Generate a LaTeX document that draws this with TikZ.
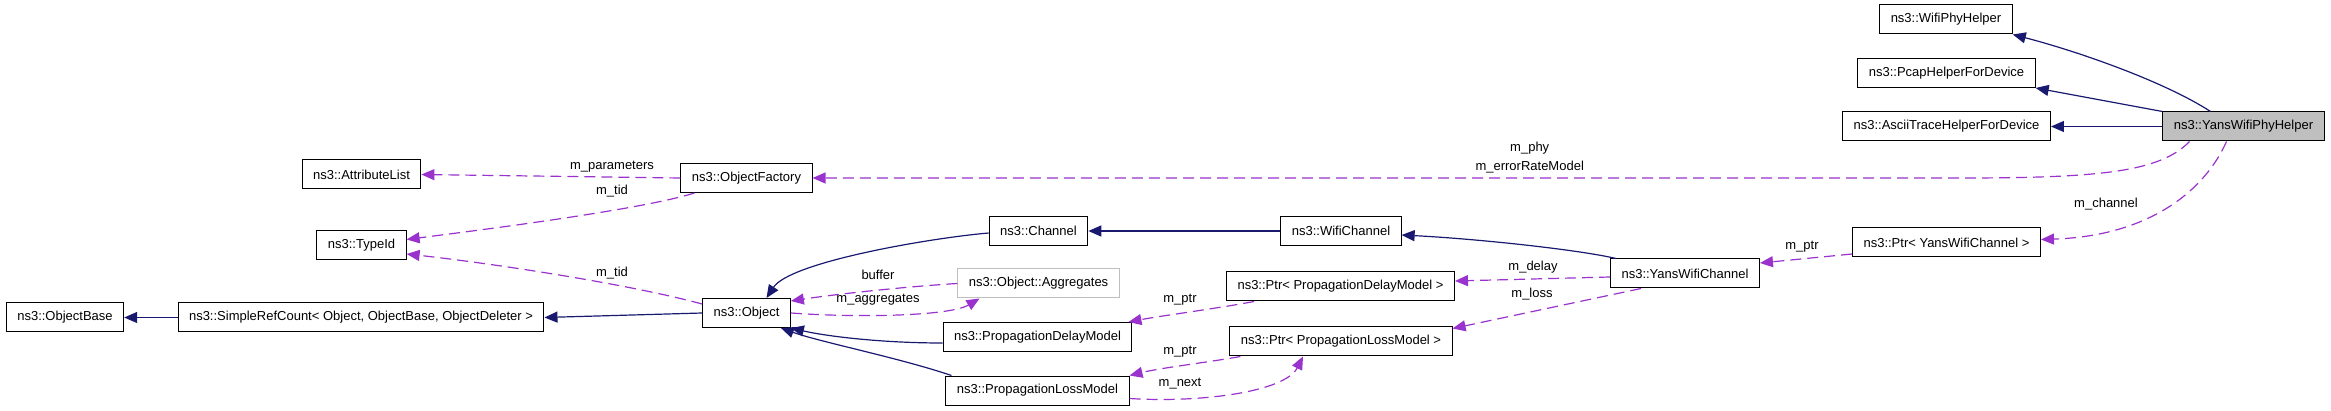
\documentclass[tikz,border=0pt]{standalone}
\usepackage{fontspec}
\setmainfont{Liberation Sans}
\usetikzlibrary{arrows.meta}
\definecolor{edgeblue}{HTML}{191970}
\definecolor{edgepurple}{HTML}{9A32CD}
\definecolor{boxgray}{HTML}{BFBFBF}
\tikzset{class box/.style={draw=black, line width=1pt, fill=white,
    inner xsep=11pt, inner ysep=0pt, minimum height=29pt,
    font=\fontsize{13}{15}\selectfont}}
\tikzset{inherit it/.style={draw=edgeblue, line width=1.2pt,
    -{Triangle[length=13pt,width=11pt]}}}
\tikzset{member it/.style={draw=edgepurple, line width=1.2pt,
    dash pattern=on 11pt off 6pt,
    -{Triangle[length=13pt,width=11pt]}}}
\tikzset{edge label/.style={font=\fontsize{13}{15}\selectfont,
    anchor=base, inner sep=0pt}}

\begin{document}
\begin{tikzpicture}[x=1pt,y=-1pt]
    \useasboundingbox (0,0) rectangle (2331,411);
    % classes
    \node[class box] (wifiphy) at (1946,19.5) {ns3::WifiPhyHelper};
    \node[class box] (pcap) at (1946.5,73) {ns3::PcapHelperForDevice};
    \node[class box] (ascii) at (1946.5,126.5) {ns3::AsciiTraceHelperForDevice};
    \node[class box, fill=boxgray] (ywph) at (2243.5,126.5) {ns3::YansWifiPhyHelper};
    \node[class box] (of) at (746.5,178) {ns3::ObjectFactory};
    \node[class box] (attributelist) at (361.5,174.5) {ns3::AttributeList};
    \node[class box] (typeid) at (361.5,245.5) {ns3::TypeId};
    \node[class box] (objectbase) at (65,317.5) {ns3::ObjectBase};
    \node[class box] (simplerefcount) at (361,317.5) {ns3::SimpleRefCount< Object, ObjectBase, ObjectDeleter >};
    \node[class box] (object) at (746.5,313) {ns3::Object};
    \node[class box] (channel) at (1038.5,231) {ns3::Channel};
    \node[class box] (wifichannel) at (1341,231) {ns3::WifiChannel};
    \node[class box, draw=boxgray] (agg) at (1038.5,283.5) {ns3::Object::Aggregates};
    \node[class box] (pdm) at (1037.5,337) {ns3::PropagationDelayModel};
    \node[class box] (plm) at (1037.5,390.5) {ns3::PropagationLossModel};
    \node[class box] (ptrpd) at (1340.5,286.5) {ns3::Ptr< PropagationDelayModel >};
    \node[class box] (ptrpl) at (1341,341.5) {ns3::Ptr< PropagationLossModel >};
    \node[class box] (ywc) at (1685,273.5) {ns3::YansWifiChannel};
    \node[class box] (ptrywc) at (1946.5,242.5) {ns3::Ptr< YansWifiChannel >};
    % inheritance
    \draw[inherit it] ([xshift=-33pt]ywph.north) .. controls (2165,82) and (2080,52) .. (wifiphy.south east);
    \draw[inherit it] (ywph.north west) -- (pcap.south east);
    \draw[inherit it] (ywph.west) -- (ascii.east);
    \draw[inherit it] ([xshift=6pt]ywc.north west) .. controls (1580,250) and (1480,239) .. ([yshift=-4pt]wifichannel.east);
    \draw[inherit it] (wifichannel.west) -- (channel.east);
    \draw[inherit it] ([yshift=-2pt]channel.west) .. controls (930,238) and (790,262) .. ([xshift=20pt]object.north);
    \draw[inherit it] ([yshift=-6pt]pdm.west) .. controls (880,343) and (825,336) .. (object.south east);
    \draw[inherit it] ([xshift=6pt]plm.north west) .. controls (900,358) and (820,342) .. ([xshift=-10pt]object.south east);
    \draw[inherit it] (object.west) -- (simplerefcount.east);
    \draw[inherit it] (simplerefcount.west) -- (objectbase.east);
    % members
    \draw[member it] ([xshift=-54pt]ywph.south) .. controls (2160,172) and (2100,178) .. (1960,178)
        -- node[edge label, pos=0.375, yshift=7pt] (lerror) {m\_errorRateModel}
           node[edge label, pos=0.375, yshift=26pt] (lphy) {m\_phy} (of.east);
    \draw[member it] ([xshift=-17pt]ywph.south) .. controls (2205,190) and (2150,236) .. ([yshift=3pt]ptrywc.east);
    \node[edge label] (lchannel) at (2106,208) {m\_channel};
    \draw[member it] ([yshift=-11.5pt]ptrywc.west) -- ([yshift=10.5pt]ywc.east);
    \node[edge label] (lptrywc) at (1802,250) {m\_ptr};
    \draw[member it] ([yshift=-3.5pt]ywc.west) -- ([yshift=5.5pt]ptrpd.east);
    \node[edge label] (ldelay) at (1533,271) {m\_delay};
    \draw[member it] ([xshift=31pt]ywc.south west) -- ([yshift=13pt]ptrpl.east);
    \node[edge label] (lloss) at (1532,298) {m\_loss};
    \draw[member it] ([xshift=28pt]ptrpd.south west) .. controls (1220,308) and (1160,316) .. ([xshift=-4pt]pdm.north east);
    \node[edge label] (lptrpd) at (1180,303) {m\_ptr};
    \draw[member it] ([xshift=11pt]ptrpl.south west) .. controls (1210,362) and (1160,368) .. (plm.north east);
    \node[edge label] (lptrpl) at (1180,355) {m\_ptr};
    \draw[member it] ([yshift=-8pt]plm.east) .. controls (1200,403) and (1285,392) .. ([xshift=-38pt]ptrpl.south);
    \node[edge label] (lnext) at (1180,386) {m\_next};
    \draw[member it] (agg.west) .. controls (900,287) and (830,295) .. ([yshift=-3pt]object.north east);
    \node[edge label] (lbuffer) at (878,280) {buffer};
    \draw[member it] (object.east) .. controls (860,318) and (950,316) .. ([xshift=-59pt]agg.south);
    \node[edge label] (laggregates) at (878,303) {m\_aggregates};
    \draw[member it] (of.west) -- (attributelist.east);
    \node[edge label] (lparameters) at (612,170) {m\_parameters};
    \draw[member it] ([xshift=14pt]of.south west) .. controls (640,210) and (480,230) .. ([yshift=6pt]typeid.east);
    \node[edge label] (ltidof) at (612,195) {m\_tid};
    \draw[member it] ([yshift=9pt]object.west) .. controls (620,282) and (480,262) .. ([yshift=-8.5pt]typeid.east);
    \node[edge label] (ltidobject) at (612,277) {m\_tid};
\end{tikzpicture}
\end{document}
